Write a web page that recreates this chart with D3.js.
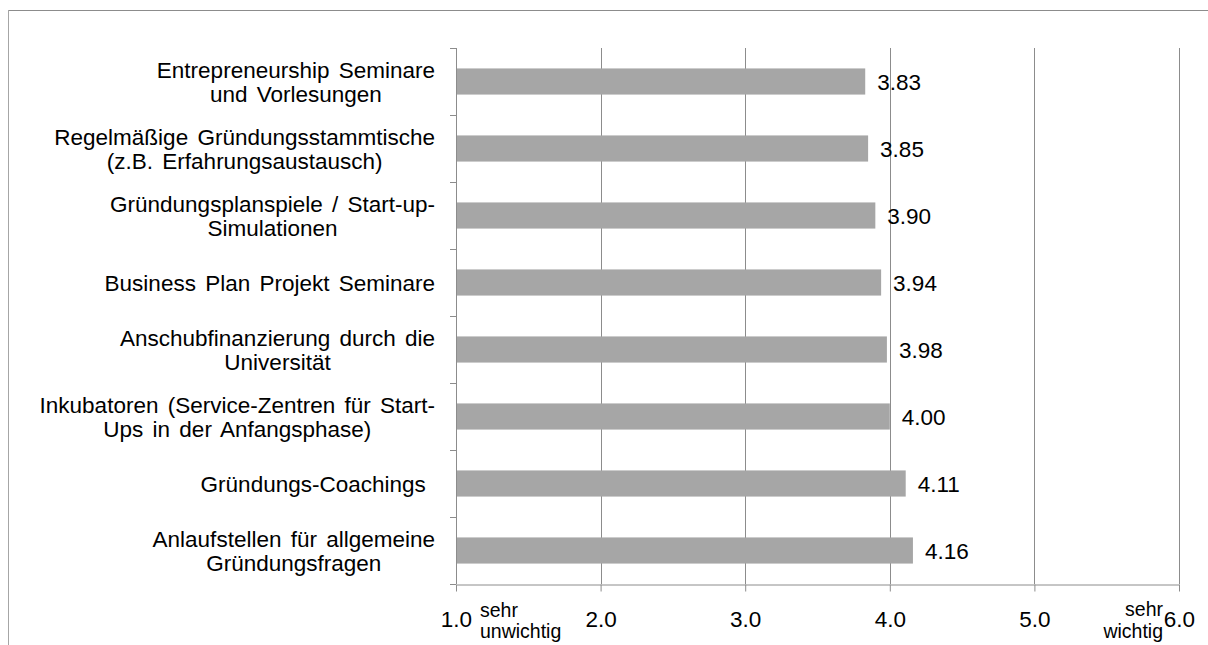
<!DOCTYPE html>
<html>
<head>
<meta charset="utf-8">
<script src="https://cdn.jsdelivr.net/npm/d3@7"></script>
<style>
  body { margin: 0; background: #fff; }
  text { font-family: "Liberation Sans", Arial, sans-serif; fill: #000; white-space: pre; }
</style>
</head>
<body>
<div id="chart"></div>
<script>
const categories = [
  ["Entrepreneurship Seminare", "und Vorlesungen"],
  ["Regelmäßige Gründungsstammtische", "(z.B. Erfahrungsaustausch)"],
  ["Gründungsplanspiele / Start-up-", "Simulationen"],
  ["Business Plan Projekt Seminare"],
  ["Anschubfinanzierung durch die", "Universität"],
  ["Inkubatoren (Service-Zentren für Start-", "Ups in der Anfangsphase)"],
  ["Gründungs-Coachings "],
  ["Anlaufstellen für allgemeine", "Gründungsfragen"]
];
const values = [3.83, 3.85, 3.90, 3.94, 3.98, 4.00, 4.11, 4.16];
const xTicks = [1, 2, 3, 4, 5, 6];

const width = 1208, height = 645;
const plot = { left: 456, right: 1179, top: 48, bottom: 584 };
const fontMain = "22.5px";

const svg = d3.select("#chart").append("svg")
  .attr("width", width)
  .attr("height", height);

// outer frame (only top & left visible in the crop)
svg.append("line").attr("x1", 8).attr("x2", width).attr("y1", 10.5).attr("y2", 10.5)
  .attr("stroke", "#8c8c8c").attr("stroke-width", 1);
svg.append("line").attr("x1", 8.5).attr("x2", 8.5).attr("y1", 10).attr("y2", height)
  .attr("stroke", "#a6a6a6").attr("stroke-width", 1);

const x = d3.scaleLinear().domain([1, 6]).range([plot.left, plot.right]);
const y = d3.scaleBand().domain(d3.range(values.length)).range([plot.top, plot.bottom]).padding(0);
const barH = y.bandwidth() * 0.39;

// gridlines
svg.append("g").selectAll("line")
  .data(xTicks.slice(1))
  .join("line")
  .attr("x1", d => Math.round(x(d)) + 0.5)
  .attr("x2", d => Math.round(x(d)) + 0.5)
  .attr("y1", plot.top)
  .attr("y2", plot.bottom)
  .attr("stroke", "#8c8c8c");

// bars
svg.append("g").selectAll("rect")
  .data(values)
  .join("rect")
  .attr("x", x(1))
  .attr("y", (d, i) => y(i) + y.bandwidth() / 2 - barH / 2)
  .attr("width", d => x(d) - x(1))
  .attr("height", barH)
  .attr("fill", "#a6a6a6");

// value labels
svg.append("g").selectAll("text")
  .data(values)
  .join("text")
  .attr("x", d => x(d) + 12)
  .attr("y", (d, i) => y(i) + y.bandwidth() / 2 + 8)
  .style("font-size", fontMain)
  .text(d => d.toFixed(2));

// x axis
const xAxis = svg.append("g")
  .attr("transform", `translate(0,${plot.bottom + 0.5})`)
  .call(d3.axisBottom(x).tickValues(xTicks).tickFormat(d3.format(".1f")).tickSize(7).tickSizeOuter(0));
xAxis.select(".domain").attr("stroke", "#8c8c8c");
xAxis.selectAll(".tick line").attr("stroke", "#8c8c8c");
xAxis.selectAll(".tick text")
  .attr("y", 42).attr("dy", null)
  .style("font-size", fontMain)
  .style("font-family", "'Liberation Sans', Arial, sans-serif")
  .attr("fill", "#000");

// y axis line and boundary ticks
svg.append("line")
  .attr("x1", plot.left + 0.5).attr("x2", plot.left + 0.5)
  .attr("y1", plot.top).attr("y2", plot.bottom)
  .attr("stroke", "#8c8c8c");
const bounds = values.map((d, i) => y(i)).concat([y(values.length - 1) + y.bandwidth()]);
svg.append("g").selectAll("line")
  .data(bounds)
  .join("line")
  .attr("x1", plot.left - 6).attr("x2", plot.left)
  .attr("y1", d => Math.round(d) + 0.5).attr("y2", d => Math.round(d) + 0.5)
  .attr("stroke", "#8c8c8c");

// category labels: block right aligned, each line centred in block
const labelRight = 435;
const lineH = 24;
categories.forEach((lines, i) => {
  const cy = y(i) + y.bandwidth() / 2;
  const g = svg.append("g");
  const texts = lines.map((l, j) => g.append("text")
    .attr("y", cy + (j - (lines.length - 1) / 2) * lineH + 8)
    .attr("text-anchor", "middle")
    .style("font-size", fontMain)
    .style("word-spacing", "3px")
    .text(l));
  const maxW = d3.max(texts, t => t.node().getComputedTextLength());
  texts.forEach(t => t.attr("x", labelRight - maxW / 2));
});

// scale end annotations
const small = svg.append("g").style("font-size", "19.5px");
small.append("text").attr("x", 480).attr("y", 617).text("sehr");
small.append("text").attr("x", 480).attr("y", 638).text("unwichtig");
small.append("text").attr("x", 1163).attr("y", 616).attr("text-anchor", "end").text("sehr");
small.append("text").attr("x", 1163).attr("y", 638).attr("text-anchor", "end").text("wichtig");
</script>
</body>
</html>
